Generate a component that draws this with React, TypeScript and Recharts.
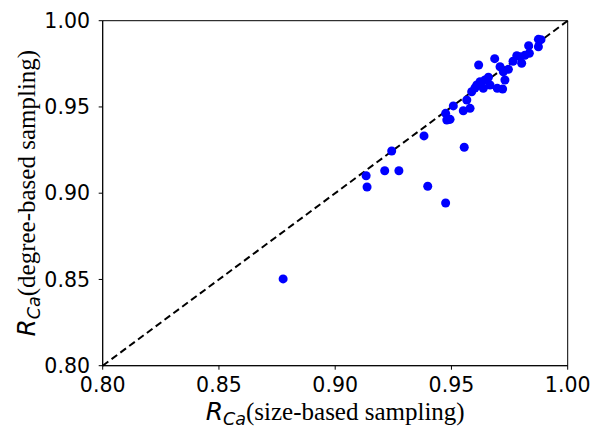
import { ScatterChart, Scatter, XAxis, YAxis, ZAxis, ReferenceLine, ReferenceArea, Label } from 'recharts';

// R_Ca values per network: size-based (x) vs degree-based (y) sampling
const sizeBased = [
  0.8776, 0.9243, 0.9133, 0.9137, 0.9213, 0.9274, 0.9382, 0.9398, 0.9475, 0.9555,
  0.9475, 0.948, 0.9494, 0.9508, 0.9551, 0.958, 0.9566, 0.9587, 0.9601, 0.9637,
  0.9697, 0.972, 0.9666, 0.9623, 0.9644, 0.973, 0.9659, 0.9723, 0.9745, 0.9709,
  0.9617, 0.9686, 0.9781, 0.9795, 0.9816, 0.9802, 0.9832, 0.9835, 0.9874, 0.9885,
  0.9874, 0.9765, 0.9609,
];
const degreeBased = [
  0.8503, 0.9245, 0.9101, 0.9036, 0.913, 0.913, 0.9332, 0.904, 0.8943, 0.9266,
  0.9463, 0.9424, 0.9428, 0.9506, 0.9478, 0.9492, 0.954, 0.9588, 0.961, 0.9608,
  0.9608, 0.9604, 0.9627, 0.9646, 0.9656, 0.9656, 0.9672, 0.9704, 0.9718, 0.9733,
  0.9743, 0.978, 0.9797, 0.9791, 0.98, 0.9753, 0.9855, 0.9811, 0.9892, 0.989,
  0.9849, 0.9765, 0.9627,
];
const ticks = [0.8, 0.85, 0.9, 0.95, 1.0];

const points = sizeBased.map((x, i) => ({ x, y: degreeBased[i] }));

const tickStyle = { fontFamily: 'DejaVu Sans', fontSize: 20.5, fill: '#000' };
const serif = "'Liberation Serif', 'DejaVu Serif', serif";

// matplotlib-ish "R_Ca(...)" label
const AxisTitle = ({ x, y, rotate, text }: { x: number; y: number; rotate?: boolean; text: string }) => (
  <text
    x={x}
    y={y}
    transform={rotate ? `rotate(-90, ${x}, ${y})` : undefined}
    textAnchor='middle'
    fontSize={25}
    fill='#000'
  >
    <tspan fontFamily='DejaVu Sans' fontStyle='italic'>R</tspan>
    <tspan fontFamily='DejaVu Sans' fontStyle='italic' fontSize={17.5} dy={5}>Ca</tspan>
    <tspan fontFamily={serif} dy={-5}>{text}</tspan>
  </text>
);

export default function App() {
  return (
    <div style={{ position: 'absolute', left: 0, top: 0, background: '#fff' }}>
      <ScatterChart width={602} height={427} margin={{ top: 20.7, right: 34.3, left: 42.7, bottom: 31.3 }}>
        <XAxis
          type='number'
          dataKey='x'
          domain={[0.8, 1]}
          ticks={ticks}
          allowDataOverflow
          tickFormatter={(v) => v.toFixed(2)}
          tick={tickStyle}
          tickSize={4}
          tickMargin={8}
          height={30}
          stroke='#000'
        >
          <Label
            content={({ viewBox }: any) => (
              <AxisTitle x={viewBox.x + viewBox.width / 2} y={420} text='(size-based sampling)' />
            )}
          />
        </XAxis>
        <YAxis
          type='number'
          dataKey='y'
          domain={[0.8, 1]}
          ticks={ticks}
          allowDataOverflow
          tickFormatter={(v) => v.toFixed(2)}
          tick={tickStyle}
          tickSize={4}
          tickMargin={8.7}
          width={60}
          stroke='#000'
        >
          <Label
            content={({ viewBox }: any) => (
              <AxisTitle x={35} y={viewBox.y + viewBox.height / 2} rotate text='(degree-based sampling)' />
            )}
          />
        </YAxis>
        <ZAxis range={[43, 43]} />
        <ReferenceArea x1={0.8} x2={1} y1={0.8} y2={1} fill='none' stroke='#000' strokeWidth={1} />
        <Scatter data={points} fill='#0000ff' shape='circle' isAnimationActive={false} />
        <ReferenceLine
          segment={[{ x: 0.8, y: 0.8 }, { x: 1, y: 1 }]}
          stroke='#000'
          strokeWidth={2}
          strokeDasharray='7 4'
        />
      </ScatterChart>
    </div>
  );
}
